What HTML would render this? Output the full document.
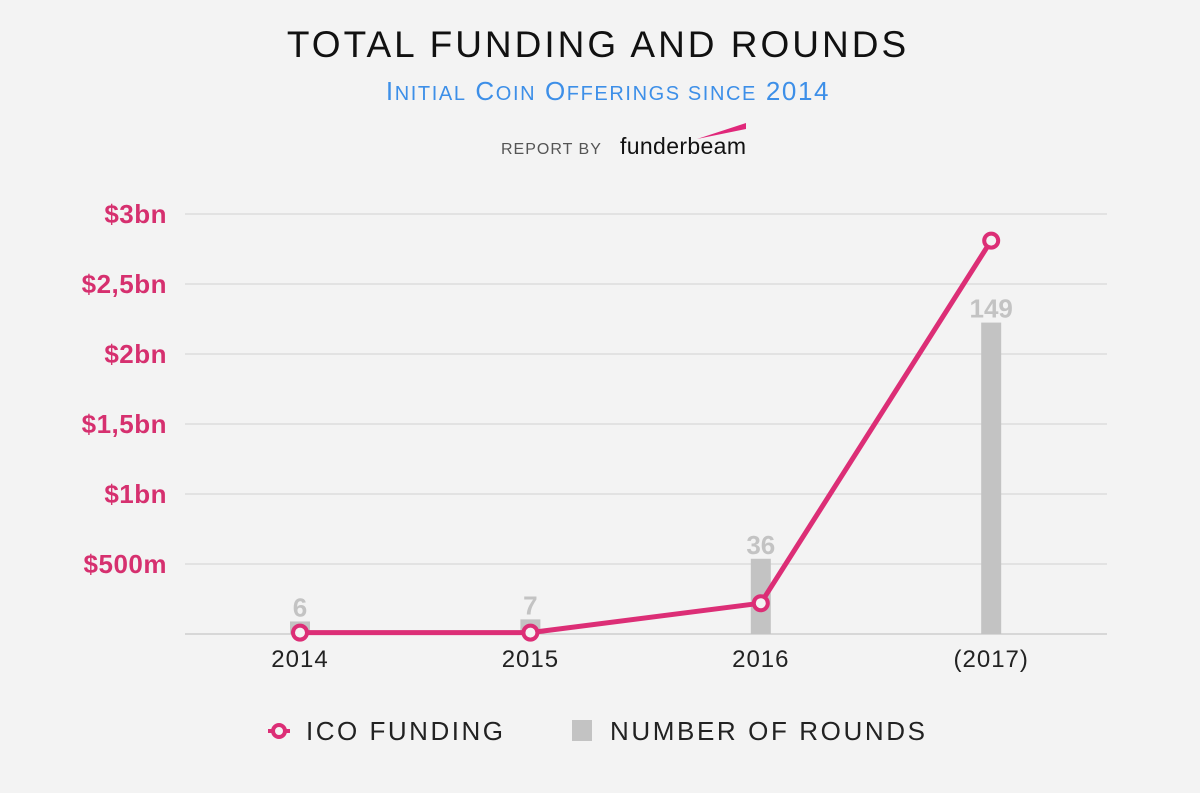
<!DOCTYPE html>
<html><head><meta charset="utf-8"><style>
html,body{margin:0;padding:0;background:#f3f3f3;width:1200px;height:793px;overflow:hidden}
text{font-family:"Liberation Sans",sans-serif}
</style></head><body>
<svg id="chart" width="1200" height="793" xmlns="http://www.w3.org/2000/svg">
<rect width="1200" height="793" fill="#f3f3f3"/>
<text x="598" y="57" text-anchor="middle" font-size="37" fill="#111" letter-spacing="3">TOTAL FUNDING AND ROUNDS</text>
<text x="608" y="100" text-anchor="middle" font-size="26" fill="#3d8fe8" letter-spacing="1.6">I<tspan font-size="20">NITIAL</tspan> C<tspan font-size="20">OIN</tspan> O<tspan font-size="20">FFERINGS SINCE</tspan> 2014</text>
<text x="501" y="154" font-size="16" fill="#555" letter-spacing="1">REPORT BY</text>
<text x="620" y="154" font-size="23" font-family="Liberation Serif,serif" fill="#111" textLength="126">funderbeam</text>
<polygon points="697,139 746,123 746,129" fill="#e0287a"/>
<g id="grid"></g><g id="bars"></g><g id="line"></g>
<g>
<line x1="268" y1="731" x2="290" y2="731" stroke="#dc2e76" stroke-width="4"/>
<circle cx="279" cy="731" r="6" fill="#f3f3f3" stroke="#dc2e76" stroke-width="4"/>
<text x="306" y="740" font-size="26" fill="#222" textLength="197">ICO FUNDING</text>
<rect x="572" y="720" width="20" height="21" fill="#c3c3c3"/>
<text x="610" y="740" font-size="26" fill="#222" textLength="315">NUMBER OF ROUNDS</text>
</g>
</svg>
<script>
const categories=["2014","2015","2016","(2017)"];
const rounds=[6,7,36,149];
const funding=[0.01,0.01,0.22,2.81];
const yTicks=[0,0.5,1,1.5,2,2.5,3];
const yTickLabels=["","$500m","$1bn","$1,5bn","$2bn","$2,5bn","$3bn"];
const NS="http://www.w3.org/2000/svg";
const x=i=>300+i*230.4;
const y=v=>634-v*140;
const yb=r=>634-r*2.09;
function mk(t,a,p){const e=document.createElementNS(NS,t);for(const k in a)e.setAttribute(k,a[k]);p.appendChild(e);return e;}
const grid=document.getElementById('grid'),bars=document.getElementById('bars'),line=document.getElementById('line');
yTicks.forEach((v,i)=>{
 const l=mk('line',{x1:185,x2:1107,y1:y(v),y2:y(v),stroke:i==0?'#bbb':'#d0d0d0','stroke-width':1},grid);
 
 
 if(yTickLabels[i]){const t=mk('text',{x:167,y:y(v)+9,'text-anchor':'end','font-size':26,'font-weight':'bold',fill:'#d6306f','letter-spacing':0.5},grid);t.textContent=yTickLabels[i];
 
 }
});
categories.forEach((c,i)=>{
 const t=mk('text',{x:x(i),y:667,'text-anchor':'middle','font-size':24,fill:'#222','letter-spacing':1},grid);t.textContent=c;
 
 
 const b=mk('rect',{x:x(i)-10,y:yb(rounds[i]),width:20,height:634-yb(rounds[i]),fill:'#c3c3c3'},bars);
 
 
 const v=mk('text',{x:x(i),y:yb(rounds[i])-5,'text-anchor':'middle','font-size':26,'font-weight':'bold',fill:'#c3c3c3'},bars);v.textContent=rounds[i];
 
 
});
const pl=mk('polyline',{points:funding.map((v,i)=>x(i)+','+y(v)).join(' '),fill:'none',stroke:'#dc2e76','stroke-width':5,'stroke-linejoin':'round'},line);


funding.forEach((v,i)=>{
 const c=mk('circle',{cx:x(i),cy:y(v),r:7,fill:'#f3f3f3',stroke:'#dc2e76','stroke-width':4},line);
 
 
});
</script>
</body></html>
